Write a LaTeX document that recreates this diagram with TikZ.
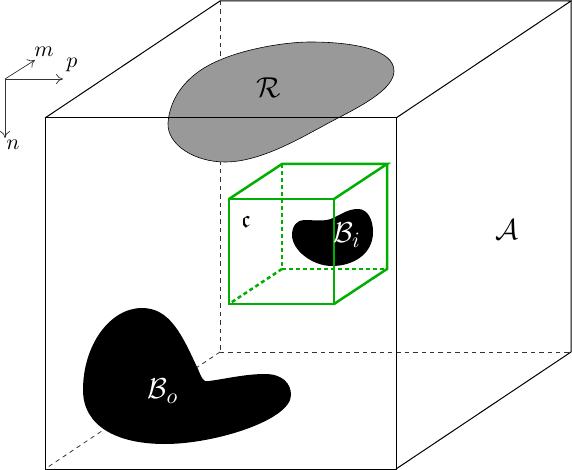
\documentclass[tikz,border=0pt]{standalone}
\usepackage{amsmath}
\usepackage{amssymb}
\usepackage{xcolor}
\usetikzlibrary{arrows.meta}
\definecolor{boxgreen}{RGB}{0,175,0}
\tikzset{
  edge/.style={line width=0.5pt},
  hidden/.style={line width=0.4pt, dash pattern=on 2.2pt off 2pt, black!80},
  axis/.style={line width=0.35pt, black!80, -{To[length=3.5pt,width=5pt]}},
  sub/.style={line width=1.25pt, boxgreen},
  subhidden/.style={sub, dash pattern=on 2pt off 1.5pt},
  label/.style={inner sep=0pt, font=\fontsize{15}{17}\selectfont},
  axislabel/.style={inner sep=0pt, font=\fontsize{11}{13}\selectfont}
}
\begin{document}
\begin{tikzpicture}[x=0.5pt, y=-0.5pt]
  \useasboundingbox (0,0) rectangle (572,470);
  \coordinate (a1) at (45,118); \coordinate (a2) at (396,118);
  \coordinate (a3) at (396,469); \coordinate (a4) at (45,469);
  \coordinate (b1) at (220,1); \coordinate (b2) at (571,1);
  \coordinate (b3) at (571,352); \coordinate (b4) at (220,352);
  \draw[hidden] (b1) -- (b4); \draw[hidden] (b4) -- (b3); \draw[hidden] (b4) -- (a4);
  \draw[line width=0.3pt, fill=black!40] (168,123) .. controls (170,95) and (190,72) .. (220,60)
    .. controls (245,49) and (285,42) .. (310,42) .. controls (355,42) and (394,50) .. (394,71)
    .. controls (394,88) and (365,104) .. (340,117) .. controls (310,132) and (265,162) .. (225,162)
    .. controls (195,162) and (167,145) .. (168,123) -- cycle;
  \fill (83,390) .. controls (83,345) and (110,308) .. (142,308)
    .. controls (170,308) and (182,335) .. (197,367) .. controls (202,378) and (203,383) .. (209,381)
    .. controls (225,379) and (245,374) .. (265,374) .. controls (282,374) and (291,383) .. (291,395)
    .. controls (291,420) and (215,444) .. (165,444) .. controls (115,444) and (83,425) .. (83,390) -- cycle;
  \fill (292,235) .. controls (292,225) and (298,220) .. (304,220)
    .. controls (315,220) and (325,222) .. (333,218) .. controls (342,214) and (348,209) .. (358,209)
    .. controls (368,209) and (373,220) .. (373,232) .. controls (373,255) and (352,266) .. (332,266)
    .. controls (312,266) and (292,250) .. (292,235) -- cycle;
  \draw[edge] (a1) -- (a2) -- (a3) -- (a4) -- cycle;
  \draw[edge] (a1) -- (b1) -- (b2) -- (a2);
  \draw[edge] (b2) -- (b3) -- (a3);
  \coordinate (c1) at (229,199); \coordinate (c2) at (334,199);
  \coordinate (c3) at (334,304); \coordinate (c4) at (229,304);
  \coordinate (d1) at (282,164); \coordinate (d2) at (387,164);
  \coordinate (d3) at (387,269); \coordinate (d4) at (282,269);
  \draw[subhidden] (d1) -- (d4); \draw[subhidden] (d4) -- (d3); \draw[subhidden] (d4) -- (c4);
  \draw[sub] (c1) -- (c2) -- (c3) -- (c4) -- cycle;
  \draw[sub] (c1) -- (d1) -- (d2) -- (c2);
  \draw[sub] (d2) -- (d3) -- (c3);
  \node[label] (regionR) at (269,88) {$\mathcal{R}$};
  \node[label] (domainA) at (507,230) {$\mathcal{A}$};
  \node[label, text=white] (bodyO) at (163,391) {$\mathcal{B}_o$};
  \node[label, text=white] (bodyI) at (347,235) {$\mathcal{B}_i$};
  \node[inner sep=0pt, font=\fontsize{12}{14}\selectfont] (cellC) at (246,222) {$\mathfrak{c}$};
  \coordinate (origin) at (5,79);
  \coordinate (axisM) at (35,60); \coordinate (axisP) at (63,79); \coordinate (axisN) at (5,138);
  \draw[axis] (origin) -- (axisM);
  \draw[axis] (origin) -- (axisP);
  \draw[axis] (origin) -- (axisN);
  \node[axislabel] (labelM) at (44,52) {$m$};
  \node[axislabel] (labelP) at (72,65) {$p$};
  \node[axislabel] (labelN) at (13,145) {$n$};
\end{tikzpicture}
\end{document}
